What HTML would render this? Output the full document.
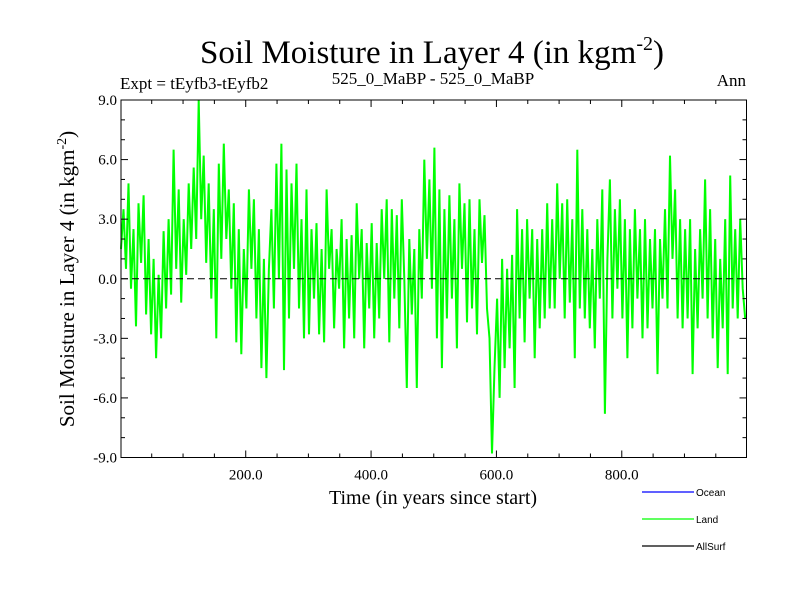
<!DOCTYPE html>
<html><head><meta charset="utf-8"><style>
html,body{margin:0;padding:0;background:#fff;}
svg{display:block;font-family:"Liberation Serif",serif;}
</style></head><body>
<svg id="chart" width="800" height="600" viewBox="0 0 800 600">
<text x="432" y="63" text-anchor="middle" font-size="33">Soil Moisture in Layer 4 (in kgm<tspan dy="-13" font-size="20">-2</tspan><tspan dy="13">)</tspan></text>
<text x="120" y="89" font-size="17">Expt = tEyfb3-tEyfb2</text>
<text x="433" y="84" text-anchor="middle" font-size="17">525_0_MaBP - 525_0_MaBP</text>
<text x="746" y="86" text-anchor="end" font-size="17">Ann</text>
<g id="plot"></g>
<text transform="translate(74,279) rotate(-90)" text-anchor="middle" font-size="21">Soil Moisture in Layer 4 (in kgm<tspan dy="-8" font-size="14">-2</tspan><tspan dy="8">)</tspan></text>
<text x="433" y="504" text-anchor="middle" font-size="20">Time (in years since start)</text>
<g font-family="Liberation Sans, sans-serif" font-size="10">
<g><line x1="642" y1="492" x2="694" y2="492" stroke="#0000ff" stroke-width="1.2"/><text x="696" y="496">Ocean</text></g>
<g><line x1="642" y1="519" x2="694" y2="519" stroke="#00ff00" stroke-width="1.2"/><text x="696" y="523">Land</text></g>
<g><line x1="642" y1="546" x2="694" y2="546" stroke="#000" stroke-width="1.2"/><text x="696" y="550">AllSurf</text></g>
</g>
</svg>
<script>
const years = [];
for (let i = 0; i < 250; i++) years.push(1 + i * 4);
const landValues = [
1.5,3.5,0.5,4.8,-0.5,2.5,-2.4,3.8,0.8,4.2,-1.8,2.0,-2.8,1.0,-4.0,0.2,-3.0,2.4,-1.5,3.0,-0.8,6.5,0.5,4.5,-1.2,
3.0,0.2,4.8,1.5,5.6,2.0,9.0,3.0,6.2,0.8,4.8,-1.0,3.5,-3.0,5.8,1.0,6.8,2.0,4.5,-0.5,3.8,-3.2,2.5,-3.8,1.5,
-1.5,4.5,0.5,4.0,-2.0,2.5,-4.5,1.0,-5.0,0.5,3.5,-1.5,5.8,0.0,6.8,-4.6,5.5,-2.0,4.8,0.5,5.8,-1.5,3.0,-3.0,4.5,
-2.8,2.5,-1.0,2.8,-2.8,1.5,-3.2,4.5,0.5,2.5,-2.5,1.5,-0.5,3.0,-3.5,2.0,-2.0,2.2,-3.0,3.8,0.0,2.5,-3.5,1.8,-1.5,
2.8,-3.0,1.8,-2.0,3.5,0.0,4.0,-3.2,3.5,-1.0,3.2,-2.5,4.0,0.0,-5.5,2.0,-1.8,1.5,-5.5,2.5,-1.0,6.0,1.0,5.0,-0.5,
6.6,-3.0,4.5,-4.5,3.5,-2.0,4.2,-1.0,3.0,-3.5,4.8,0.5,3.8,-2.2,4.0,-1.5,2.5,-2.8,4.0,0.8,3.2,-1.5,-3.0,-8.8,-4.5,
-1.0,-6.0,1.0,-4.5,0.5,-3.5,1.2,-5.5,3.5,-2.0,2.5,-3.2,3.0,-1.0,2.5,-4.0,2.0,-2.5,2.5,-2.0,3.8,-1.5,3.0,-1.5,4.8,
0.0,3.8,-2.0,4.0,-1.2,3.0,-4.0,6.5,-1.5,3.5,-2.0,2.5,-2.5,1.5,-3.5,3.0,-1.0,4.5,-6.8,1.0,5.0,-2.0,3.5,-0.5,4.0,
-2.0,3.0,-4.0,2.5,-2.5,3.5,-1.0,2.5,-3.0,3.0,-2.5,2.0,-1.5,2.5,-4.8,2.0,-1.0,3.5,-1.5,6.2,1.0,4.5,-2.0,3.0,-2.5,
2.5,-2.0,3.0,-4.8,1.5,-2.5,2.5,-1.0,5.0,-2.0,3.5,-3.0,2.0,-4.5,1.0,-2.5,3.0,-4.8,5.2,-1.5,2.5,-2.0,3.0,-0.5,-2.0
];
const xTickValues = [200, 400, 600, 800];
const xTickLabels = ["200.0", "400.0", "600.0", "800.0"];
const yTickValues = [-9, -6, -3, 0, 3, 6, 9];
const yTickLabels = ["-9.0", "-6.0", "-3.0", "0.0", "3.0", "6.0", "9.0"];

const X0 = 121, X1 = 746.5, Y0 = 457.5, Y1 = 100;
const xMin = 1, xMax = 999, yMin = -9, yMax = 9;
const xs = t => X0 + (t - xMin) / (xMax - xMin) * (X1 - X0);
const ys = v => Y0 - (v - yMin) / (yMax - yMin) * (Y0 - Y1);
const NS = "http://www.w3.org/2000/svg";
const g = document.getElementById("plot");
function mk(tag, attrs) { const e = document.createElementNS(NS, tag); for (const k in attrs) e.setAttribute(k, attrs[k]); g.appendChild(e); return e; }

let d = "";
years.forEach((t, i) => { d += (i ? "L" : "M") + xs(t).toFixed(1) + " " + ys(landValues[i]).toFixed(1); });
const line = mk("path", {d: d, fill: "none", stroke: "#00ff00", "stroke-width": 2});



const zl = mk("line", {x1: X0, x2: X1, y1: ys(0), y2: ys(0), stroke: "#000", "stroke-width": 1, "stroke-dasharray": "7 4"});



const frame = mk("rect", {x: X0, y: Y1, width: X1 - X0, height: Y0 - Y1, fill: "none", stroke: "#000", "stroke-width": 1});



for (let t = 50; t < xMax; t += 50) {
  const major = t % 200 === 0, L = major ? 7 : 4;
  mk("line", {x1: xs(t), x2: xs(t), y1: Y0, y2: Y0 - L, stroke: "#000"});
  mk("line", {x1: xs(t), x2: xs(t), y1: Y1, y2: Y1 + L, stroke: "#000"});
}
for (let v = -8; v <= 8; v++) {
  const major = v % 3 === 0, L = major ? 7 : 4;
  mk("line", {x1: X0, x2: X0 + L, y1: ys(v), y2: ys(v), stroke: "#000"});
  mk("line", {x1: X1, x2: X1 - L, y1: ys(v), y2: ys(v), stroke: "#000"});
}
xTickValues.forEach((t, i) => {
  const tx = mk("text", {x: xs(t), y: Y0 + 22, "text-anchor": "middle", "font-size": 15});
  tx.textContent = xTickLabels[i];
  
  
});
yTickValues.forEach((v, i) => {
  const tx = mk("text", {x: X0 - 4, y: ys(v) + 5, "text-anchor": "end", "font-size": 15});
  tx.textContent = yTickLabels[i];
  
  
});
</script>
</body></html>
